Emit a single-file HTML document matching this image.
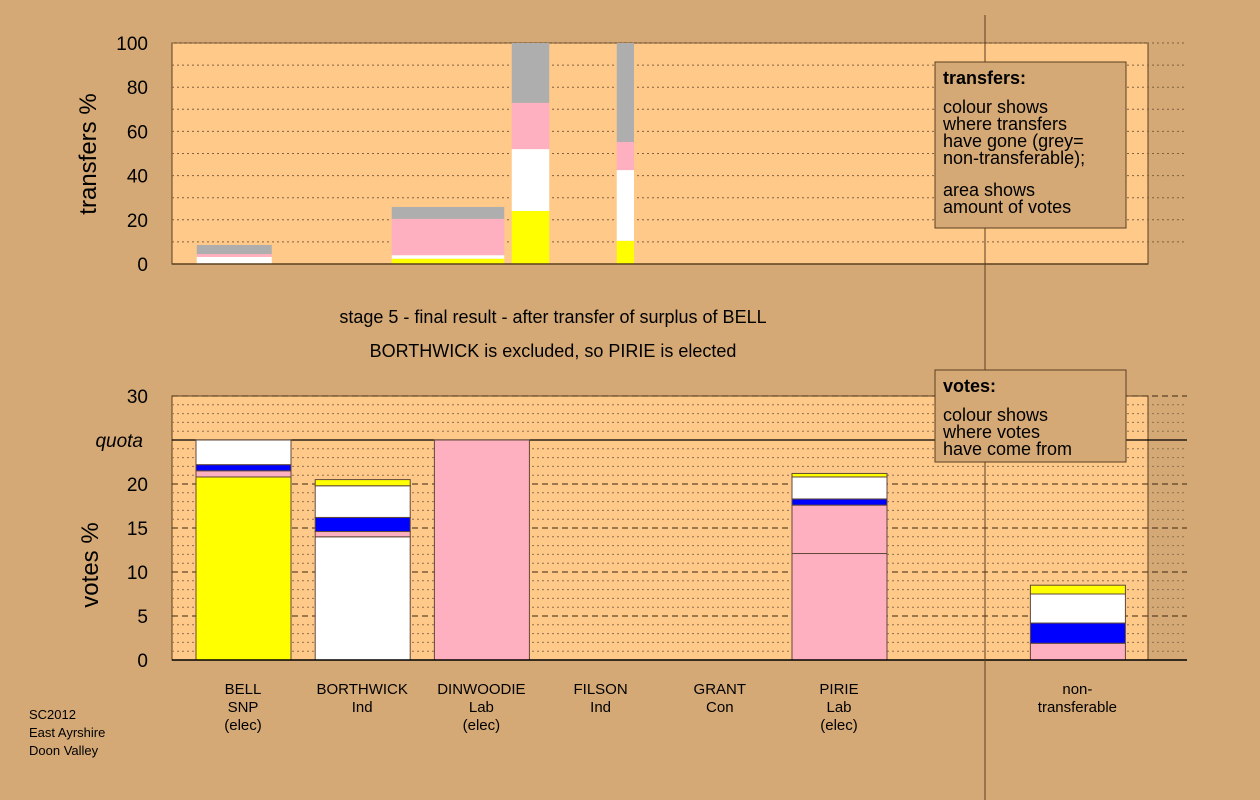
<!DOCTYPE html>
<html><head><meta charset="utf-8"><style>
html,body{margin:0;padding:0;background:#D4A976;}
svg{display:block;font-family:"Liberation Sans",sans-serif;}
</style></head><body>
<svg id="c" width="1260" height="800" xmlns="http://www.w3.org/2000/svg"></svg>
<script>
// ---- data ----
const candNames = ["BELL","BORTHWICK","DINWOODIE","FILSON","GRANT","PIRIE","non-"];
const candLine2 = ["SNP","Ind","Lab","Ind","Con","Lab","transferable"];
const candLine3 = ["(elec)","","(elec)","","","(elec)",""];
const segColors = ["#FFFF00","#FFFFFF","#FFB0C0","#0000FF","#AEAEAE"];
// bottom stacks: [color index, cumulative top value]
const voteStacks = [
 [[0,20.8],[2,21.5],[3,22.2],[1,25.0]],
 [[1,14.0],[2,14.6],[3,16.2],[1,19.8],[0,20.5]],
 [[2,25.0]],
 [],
 [],
 [[2,12.1],[2,17.6],[3,18.3],[1,20.8],[0,21.2]],
 [[2,1.9],[3,4.2],[1,7.5],[0,8.5]]
];
const voteSlots = [0,1,2,3,4,5,7];
// top transfer bars: start, width in vote-axis units, stack tops
const transStart = [1.0, 3.6, 5.2, 6.6];
const transWidth = [1.0, 1.5, 0.5, 0.23];
const transStacks = [
 [[1,3.2],[2,4.5],[4,8.6]],
 [[0,2.4],[1,4.0],[2,20.4],[4,25.8]],
 [[0,24],[1,52],[2,72.9],[4,100]],
 [[0,10.5],[1,42.5],[2,55.2],[4,100]]
];
const topTicks = [0,20,40,60,80,100];
const botTicks = [0,5,10,15,20,30];
const quota = 25;

// ---- scales ----
const px0=172, px1=1148;
const tY = v => 264 - v*2.21;
const bY = v => 660 - v*8.8;
const slotX = s => 196 + s*119.2;
const tX = u => 172 + (u-0.67)*75;
const NS="http://www.w3.org/2000/svg";
const svg=document.getElementById('c');
function mk(tag,attrs,parent){const e=document.createElementNS(NS,tag);for(const k in attrs)e.setAttribute(k,attrs[k]);(parent||svg).appendChild(e);return e;}
function txt(x,y,s,attrs){const e=mk('text',Object.assign({x:x,y:y},attrs||{}));e.textContent=s;return e;}

// ---- top panel ----
let g=mk('g',{});


mk('rect',{x:px0,y:43,width:px1-px0,height:221,fill:'#FFC98A',stroke:'#5a4020','stroke-width':1},g);
for(let v=10;v<100;v+=10){const l=mk('line',{x1:px0,x2:1187,y1:tY(v),y2:tY(v),stroke:'#806040','stroke-dasharray':'2,3','stroke-width':1},g);}
mk('line',{x1:px0,x2:1187,y1:43,y2:43,stroke:'#806040','stroke-dasharray':'2,3'},g);
transStacks.forEach((st,i)=>{let prev=0;st.forEach(([c,top])=>{
 const r=mk('rect',{x:tX(transStart[i]),y:tY(top),width:transWidth[i]*75,height:tY(prev)-tY(top),fill:segColors[c]},g);
 
 
 prev=top;});});
mk('line',{x1:px0,x2:px1,y1:264,y2:264,stroke:'#5a4020','stroke-width':1.5},g);
topTicks.forEach(v=>{const t=txt(148,tY(v)+7,String(v),{'text-anchor':'end','font-size':19});});
let yt=txt(0,0,'transfers %',{'font-size':24,transform:'translate(96,154) rotate(-90)','text-anchor':'middle'});


// ---- captions ----
let c1=txt(553,323,'stage 5 - final result - after transfer of surplus of BELL',{'text-anchor':'middle','font-size':18});

let c2=txt(553,357,'BORTHWICK is excluded, so PIRIE is elected',{'text-anchor':'middle','font-size':18});


// ---- bottom panel ----
let b=mk('g',{});


mk('rect',{x:px0,y:bY(30),width:px1-px0,height:bY(0)-bY(30),fill:'#FFC98A',stroke:'#5a4020'},b);
for(let v=1;v<=30;v++){if(v===quota)continue;const major=v%5===0;
 mk('line',{x1:px0,x2:1187,y1:bY(v),y2:bY(v),stroke:major?'#3a2810':'#907050','stroke-dasharray':major?'6,4':'2,3','stroke-width':1},b);}
mk('line',{x1:px0,x2:1187,y1:bY(quota),y2:bY(quota),stroke:'#000','stroke-width':1.2},b);
voteStacks.forEach((st,i)=>{const x=slotX(voteSlots[i]);let prev=0;st.forEach(([c,top])=>{
 const r=mk('rect',{x:x,y:bY(top),width:95,height:bY(prev)-bY(top),fill:segColors[c],stroke:'#604838','stroke-width':1},b);
 
 
 prev=top;});});
mk('line',{x1:px0,x2:1187,y1:660,y2:660,stroke:'#000','stroke-width':1.5},b);
botTicks.forEach(v=>{const t=txt(148,bY(v)+7,String(v),{'text-anchor':'end','font-size':19});});
let q=txt(143,bY(quota)+7,'quota',{'text-anchor':'end','font-size':19,'font-style':'italic'});

let yb=txt(0,0,'votes %',{'font-size':24,transform:'translate(98,565) rotate(-90)','text-anchor':'middle'});

candNames.forEach((n,i)=>{const cx=slotX(voteSlots[i])+47;
 const t=txt(cx,694,n,{'text-anchor':'middle','font-size':15});
 txt(cx,712,candLine2[i],{'text-anchor':'middle','font-size':15});
 if(candLine3[i])txt(cx,730,candLine3[i],{'text-anchor':'middle','font-size':15});});

// divider
const dv=mk('line',{x1:985,x2:985,y1:15,y2:800,stroke:'#5a4020','stroke-width':1});


// legends
const l1=mk('g',{});
mk('rect',{x:935,y:62,width:191,height:166,fill:'#D4A976',stroke:'#5a4020'},l1);
txt(943,84,'transfers:',{'font-size':18,'font-weight':'bold'},l1);
['colour shows','where transfers','have gone (grey=','non-transferable);'].forEach((s,i)=>txt(943,113+i*17,s,{'font-size':18}));
['area shows','amount of votes'].forEach((s,i)=>txt(943,196+i*17,s,{'font-size':18}));
const l2=mk('g',{});
mk('rect',{x:935,y:370,width:191,height:92,fill:'#D4A976',stroke:'#5a4020'},l2);
txt(943,392,'votes:',{'font-size':18,'font-weight':'bold'});
['colour shows','where votes','have come from'].forEach((s,i)=>txt(943,421+i*17,s,{'font-size':18}));

const ft=['SC2012','East Ayrshire','Doon Valley'];
ft.forEach((s,i)=>{const t=txt(29,719+i*18,s,{'font-size':13});});
</script>
</body></html>
